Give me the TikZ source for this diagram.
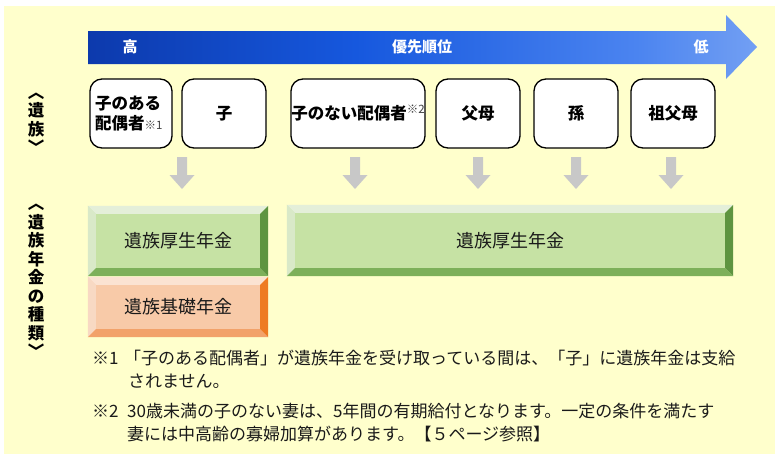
\documentclass[tikz,border=0pt]{standalone}
\usepackage{fontspec}
\setmainfont{Noto Sans CJK JP}
\usetikzlibrary{calc}
\definecolor{bgyellow}{HTML}{FFFFCC}
\definecolor{p0}{RGB}{10,30,95}
\definecolor{p1}{RGB}{10,50,160}
\definecolor{p2}{RGB}{22,88,222}
\definecolor{p3}{RGB}{75,132,240}
\definecolor{p4}{RGB}{180,205,248}
\definecolor{p5}{RGB}{205,220,250}
\definecolor{garrow}{HTML}{C8C8C8}
\definecolor{gface}{HTML}{C6E2A4}
\definecolor{gtop}{HTML}{E4EFD9}
\definecolor{gleft}{HTML}{D9E9C8}
\definecolor{gright}{HTML}{5E9440}
\definecolor{gbottom}{HTML}{7DB05A}
\definecolor{oface}{HTML}{F8CAA8}
\definecolor{otop}{HTML}{FBE3D2}
\definecolor{oleft}{HTML}{F8D9C3}
\definecolor{oright}{HTML}{EE7B22}
\definecolor{obottom}{HTML}{F2A26A}
\definecolor{txt}{HTML}{1A1A1A}
\pgfdeclarehorizontalshading{prio}{100bp}{color(0bp)=(p0); color(20bp)=(p1); color(45bp)=(p2); color(66bp)=(p3); color(90bp)=(p4); color(100bp)=(p5)}
\newcommand\smallmark[1]{{\fontsize{11.5}{12}\mdseries\selectfont\color{black!75}#1}}
\newcommand\bevelbox[5]{%
  \fill[#2] (#1.north west) -- (#1.north east) -- ([shift={(-8,8)}]#1.north east) -- ([shift={(8,8)}]#1.north west) -- cycle;
  \fill[#3] (#1.north west) -- ([shift={(8,8)}]#1.north west) -- ([shift={(8,-8)}]#1.south west) -- (#1.south west) -- cycle;
  \fill[#4] (#1.north east) -- (#1.south east) -- ([shift={(-8,-8)}]#1.south east) -- ([shift={(-8,8)}]#1.north east) -- cycle;
  \fill[#5] (#1.south west) -- (#1.south east) -- ([shift={(-8,-8)}]#1.south east) -- ([shift={(8,-8)}]#1.south west) -- cycle;
}
\tikzset{
  arrowtext/.style={text=white, font=\bfseries\fontsize{15}{18}\selectfont, inner sep=0},
  fam/.style={draw=black, line width=1.3pt, rounded corners=12pt, fill=white, minimum height=69pt, inner sep=0, font=\bfseries\fontsize{16.5}{20}\selectfont, align=center},
  pen/.style={inner sep=0, text=txt, font=\fontsize{18}{20}\selectfont},
  side/.style={inner sep=0, align=center, font=\bfseries\fontsize{16.5}{18.5}\selectfont},
  note/.style={inner sep=0, anchor=west, text=txt, font=\fontsize{17}{20}\selectfont},
  grayarrow/.pic={\fill[garrow] (-5,0) -- (5,0) -- (5,18) -- (12.5,18) -- (0,32) -- (-12.5,18) -- (-5,18) -- cycle;}
}
\begin{document}
\begin{tikzpicture}[x=1pt,y=-1pt]
\useasboundingbox (0,0) rectangle (784,461);
\fill[bgyellow] (4,6) rectangle (775,454);
% priority arrow
\shade[shading=prio] (88,31) -- (726,31) -- (726,15) -- (757,47) -- (726,79) -- (726,64) -- (88,64) -- cycle;
\node[arrowtext] (hi) at (130,47) {高};
\node[arrowtext] (prio) at (422,47) {優先順位};
\node[arrowtext] (lo) at (701,47) {低};
% side labels
\node[side] (lab1) at (36,123) {︿\\遺\\族\\﹀};
\node[side] (lab2) at (36,281) {︿\\遺\\族\\年\\金\\の\\種\\類\\﹀};
% family boxes
\node[fam, minimum width=82pt, text width=72pt, align=left] (b1) at (131,113.5) {子のある\\配偶者\smallmark{※1}};
\node[fam, minimum width=84pt] (b2) at (224,113.5) {子};
\node[fam, minimum width=134pt] (b3) at (358,113.5) {子のない配偶者\raisebox{6pt}{\smallmark{※2}}};
\node[fam, minimum width=84pt] (b4) at (478,113.5) {父母};
\node[fam, minimum width=84pt] (b5) at (576,113.5) {孫};
\node[fam, minimum width=84pt] (b6) at (673,113.5) {祖父母};
% gray arrows
\pic at (182,157) {grayarrow};
\pic at (355,157) {grayarrow};
\pic at (478,157) {grayarrow};
\pic at (576,157) {grayarrow};
\pic at (671,157) {grayarrow};
% pension boxes
\node[pen, fill=gface, minimum width=180pt, minimum height=70pt] (p1) at (178,241) {遺族厚生年金};
\bevelbox{p1}{gtop}{gleft}{gright}{gbottom}
\node[pen, fill=oface, minimum width=180pt, minimum height=60pt] (p2) at (178,307) {遺族基礎年金};
\bevelbox{p2}{otop}{oleft}{oright}{obottom}
\node[pen, fill=gface, minimum width=446pt, minimum height=71pt] (p3) at (510,240.5) {遺族厚生年金};
\bevelbox{p3}{gtop}{gleft}{gright}{gbottom}
% notes
\node[note] (m1) at (92,358) {※1};
\node[note] (n1) at (124,358) {「子のある配偶者」が遺族年金を受け取っている間は、「子」に遺族年金は支給};
\node[note] (n1b) at (128,381) {されません。};
\node[note] (m2) at (92,411) {※2};
\node[note] (n2) at (127,411) {30歳未満の子のない妻は、5年間の有期給付となります。一定の条件を満たす};
\node[note] (n2b) at (127,434) {妻には中高齢の寡婦加算があります。【５ページ参照】};
\end{tikzpicture}
\end{document}
